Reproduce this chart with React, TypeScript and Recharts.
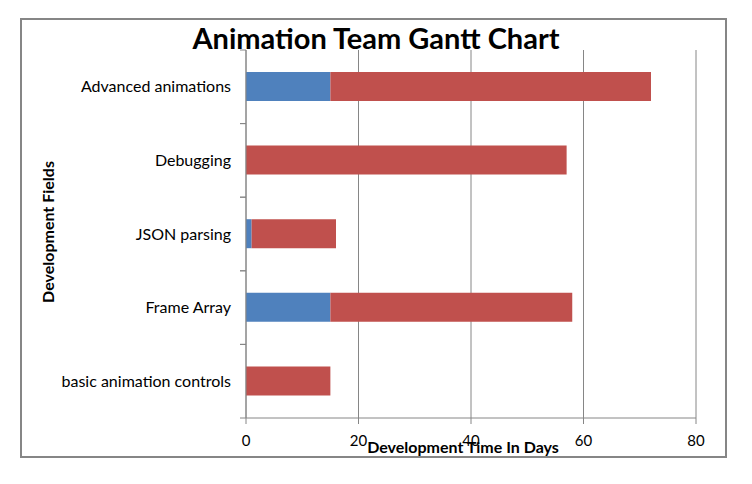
import React from 'react';
import { BarChart, Bar, XAxis, YAxis, CartesianGrid } from 'recharts';

const categories = ['Advanced animations', 'Debugging', 'JSON parsing', 'Frame Array', 'basic animation controls'];
const startDays = [15, 0, 1, 15, 0];
const durations = [57, 57, 15, 43, 15];
const xTicks = [0, 20, 40, 60, 80];

const data = categories.map((name, i) => ({ name, start: startDays[i], duration: durations[i] }));

const FONT = 'Lato, "Liberation Sans", sans-serif';
const GRAY = '#868686';
const Y_TICK_SIZE = 6;
const Y_TICK_MARGIN = 9;

const CategoryTick = (props: any) => {
  const { x, y, payload } = props;
  const off = payload && payload.offset ? payload.offset : 0;
  const axisX = x + Y_TICK_MARGIN + Y_TICK_SIZE;
  return (
    <g>
      <text x={x} y={y} dy="0.355em" textAnchor="end" fill="#000" fontSize={16} fontFamily={FONT}>
        {payload.value}
      </text>
      <line x1={axisX - Y_TICK_SIZE} x2={axisX} y1={y - off} y2={y - off} stroke={GRAY} />
      <line x1={axisX - Y_TICK_SIZE} x2={axisX} y1={y + off} y2={y + off} stroke={GRAY} />
    </g>
  );
};

export default function App() {
  return (
    <div style={{ position: 'absolute', left: 0, top: 0, width: 752, height: 484, background: '#fff', fontFamily: FONT }}>
      <div style={{ position: 'absolute', left: 20, top: 18, width: 707, height: 440, border: `2px solid ${GRAY}`, boxSizing: 'border-box' }} />
      <div style={{ position: 'absolute', left: 0, top: 20, width: 752, textAlign: 'center', fontSize: 29, fontWeight: 700, color: '#000' }}>
        Animation Team Gantt Chart
      </div>
      <div style={{ position: 'absolute', left: 0, top: 0 }}>
        <BarChart
          width={752}
          height={484}
          data={data}
          layout="vertical"
          margin={{ top: 50, right: 56, bottom: 36, left: 20 }}
          barSize={29}
        >
          <CartesianGrid horizontal={false} vertical stroke={GRAY} strokeWidth={1} />
          <XAxis
            type="number"
            domain={[0, 80]}
            ticks={xTicks}
            height={30}
            stroke={GRAY}
            tickLine={{ stroke: GRAY }}
            tickSize={6}
            tickMargin={11}
            tick={{ fill: '#000', fontSize: 15, fontFamily: FONT }}
          />
          <YAxis
            type="category"
            dataKey="name"
            width={226}
            stroke={GRAY}
            tickLine={false}
            tickSize={Y_TICK_SIZE}
            tickMargin={Y_TICK_MARGIN}
            tick={<CategoryTick />}
          />
          <Bar dataKey="start" stackId="a" fill="#4F81BD" isAnimationActive={false} />
          <Bar dataKey="duration" stackId="a" fill="#C0504D" isAnimationActive={false} />
        </BarChart>
      </div>
      <div style={{ position: 'absolute', left: 263, top: 437, width: 400, textAlign: 'center', fontSize: 16, fontWeight: 700, color: '#000' }}>
        Development Time In Days
      </div>
      <div style={{ position: 'absolute', left: 47, top: 232, width: 0, height: 0 }}>
        <div style={{ position: 'absolute', left: 0, top: 0, transform: 'translate(-50%, -50%) rotate(-90deg)', whiteSpace: 'nowrap', fontSize: 16, fontWeight: 700, color: '#000' }}>
          Development Fields
        </div>
      </div>
    </div>
  );
}
